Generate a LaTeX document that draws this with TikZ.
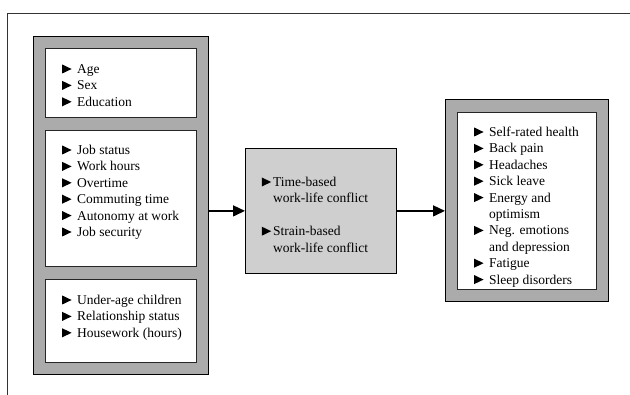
\documentclass[tikz,border=0pt]{standalone}
\usepackage{fontspec}
\setmainfont{Liberation Serif}
\usetikzlibrary{arrows.meta}
% black pointer in front of each item
\newcommand{\tri}[1][5.6pt]{\llap{\tikz[baseline=0pt]\fill (0pt,0pt)--(0pt,9pt)--(9.4pt,4.5pt)--cycle;\hspace{#1}}}

\begin{document}
\begin{tikzpicture}[x=1pt,y=-1pt,
  frame/.style={draw=black!80, line width=0.8pt},
  panel/.style={draw=black, line width=0.8pt, fill=black!33, anchor=north west, inner sep=0pt},
  card/.style={draw=black!85, line width=0.8pt, fill=white, anchor=north west, inner sep=0pt},
  items/.style={anchor=base west, inner sep=0pt, align=left, font=\fontsize{13.5}{16.4}\selectfont},
  link/.style={line width=1.4pt, -{Triangle[length=12pt,width=11pt]}}]
  \useasboundingbox (0,0) rectangle (630,395);
  % outer frame, only top and left edges
  \draw[frame] (7,395) -- (7,13) -- (630,13);

  % predictors (text nodes sit on the baseline of their last line)
  \node[panel, minimum width=175pt, minimum height=338pt] (left) at (33,36) {};
  \node[card, minimum width=151pt, minimum height=69pt] (demo) at (45,48) {};
  \node[card, minimum width=151pt, minimum height=136pt] (work) at (45,130) {};
  \node[card, minimum width=151pt, minimum height=83pt] (home) at (45,279) {};
  \node[items] (demotxt) at (77,106.3) {\tri Age\\\tri Sex\\\tri Education};
  \node[items] (worktxt) at (77,236.5) {\tri Job status\\\tri Work hours\\\tri Overtime\\
    \tri Commuting time\\\tri Autonomy at work\\\tri Job security};
  \node[items] (hometxt) at (77,337.3) {\tri Under-age children\\\tri Relationship status\\
    \tri Housework (hours)};

  % conflict
  \node[panel, fill=black!19, minimum width=151pt, minimum height=125pt] (mid) at (245,148) {};
  \node[items] (midtxt) at (273,252.1) {\tri[2pt]Time-based\\work-life conflict\\[16.4pt]
    \tri[2pt]Strain-based\\work-life conflict};

  % outcomes
  \node[panel, minimum width=163pt, minimum height=202pt] (right) at (445,99) {};
  \node[card, minimum width=139pt, minimum height=177pt] (health) at (457,112) {};
  \node[items] (healthtxt) at (489,284.1) {\tri Self-rated health\\\tri Back pain\\\tri Headaches\\
    \tri Sick leave\\\tri Energy and\\optimism\\\tri Neg. emotions\\and depression\\
    \tri Fatigue\\\tri Sleep disorders};

  \draw[link] (left.east |- mid.west) -- (mid.west);
  \draw[link] (mid.east) -- (mid.east -| right.west);
\end{tikzpicture}
\end{document}
